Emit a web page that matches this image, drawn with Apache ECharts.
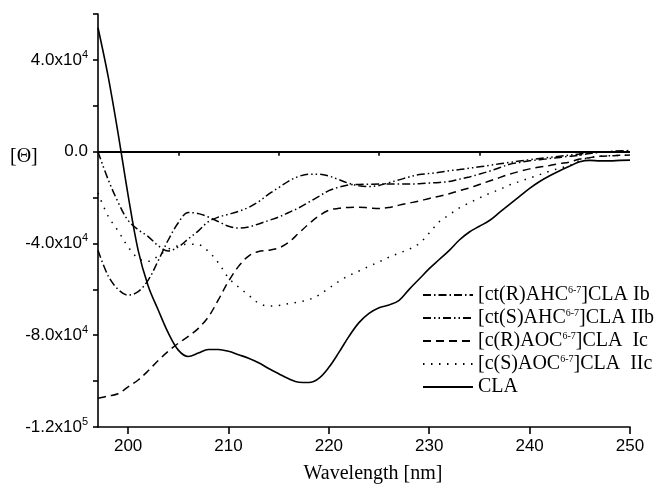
<!DOCTYPE html>
<html>
<head>
<meta charset="utf-8">
<script src="https://cdn.jsdelivr.net/npm/echarts@6/dist/echarts.min.js"></script>
<style>html,body{margin:0;padding:0;background:#fff}#c{width:658px;height:489px}</style>
</head>
<body>
<div id="c"></div>
<script>
// Wavelength grid [nm]
const wavelengths = [197,198,199,200,201,202,203,204,205,206,207,208,209,210,211,212,213,214,215,216,217,218,219,220,221,222,223,224,225,226,227,228,229,230,231,232,233,234,235,236,237,238,239,240,241,242,243,244,245,246,247,248,249,250];

// [ct(R)AHC6-7]CLA Ib  (dash-dot)
const ctR_Ib = [-43000,-54000,-60000,-62500,-61000,-56000,-47500,-38500,-31000,-26500,-27000,-28500,-30500,-32500,-33300,-32800,-31500,-30000,-28500,-26500,-24500,-22000,-19500,-17000,-15500,-14500,-14300,-14200,-14100,-14100,-14100,-14100,-14000,-13700,-13400,-13000,-12000,-11000,-9800,-8500,-7000,-5500,-4700,-4000,-3500,-3000,-2500,-2000,-1500,-800,-300,0,300,500];

// [ct(S)AHC6-7]CLA IIb (dash-dot-dot)
const ctS_IIb = [0,-12000,-22000,-30000,-34000,-37000,-41000,-43300,-41500,-38000,-34500,-30500,-28500,-27300,-26000,-24300,-21800,-18500,-15700,-12800,-10800,-9800,-9800,-10600,-12200,-13800,-14900,-15200,-14700,-13500,-12300,-11000,-10000,-9500,-9000,-8300,-7800,-7200,-6600,-6000,-5300,-4700,-4100,-3500,-3000,-2500,-2000,-1500,-1000,-500,-200,0,200,200];

// [c(R)AOC6-7]CLA Ic (dashed)
const cR_Ic = [-107500,-106500,-105500,-102500,-99500,-95500,-91000,-87000,-83500,-80500,-77000,-72000,-64500,-56500,-50000,-45500,-43500,-43000,-42000,-39500,-35500,-31500,-28000,-25500,-24700,-24300,-24200,-24500,-24800,-24300,-23300,-22400,-21500,-20400,-19400,-18300,-17000,-15800,-14300,-12800,-11300,-9800,-8600,-7500,-6700,-6000,-5200,-4500,-3200,-2600,-2000,-1800,-1600,-1500];

// [c(S)AOC6-7]CLA IIc (dotted)
const cS_IIc = [-18000,-28000,-34500,-41500,-46500,-47800,-45500,-42500,-41000,-40300,-40500,-43500,-48500,-55000,-59000,-62500,-66000,-67300,-67000,-66200,-65500,-64500,-62500,-59500,-56500,-54000,-52000,-50000,-48000,-46000,-44200,-42500,-40000,-35500,-30500,-27500,-24500,-22300,-20200,-18200,-16500,-14500,-13000,-11500,-10000,-8500,-7200,-6000,-3800,-2500,-2000,-1800,-1600,-1500];

// CLA (solid)
const cla = [54000,33000,8000,-19000,-43000,-58500,-69000,-79000,-86500,-89300,-87800,-86200,-86200,-87000,-88500,-90000,-92000,-94500,-96800,-99000,-100500,-100600,-98800,-94000,-87500,-80500,-74500,-70500,-68000,-66800,-64800,-60000,-55500,-51000,-47000,-43000,-38500,-35000,-32500,-30000,-26500,-23000,-19500,-16000,-13000,-10500,-8300,-6300,-4400,-3800,-4000,-4000,-3800,-3700];

const seriesNames = ['ctR','ctS','cR','cS','CLA'];
const legendLabels = {
  ctR: '[ct(R)AHC{s|6-7}]CLA Ib',
  ctS: '[ct(S)AHC{s|6-7}]CLA IIb',
  cR: '[c(R)AOC{s|6-7}]CLA  Ic',
  cS: '[c(S)AOC{s|6-7}]CLA  IIc',
  CLA: 'CLA'
};
const xMajorTicks = [200,210,220,230,240,250];
const xMinorTicks = [205,215,225,235,245];
const yLabelValues = [-120000,-80000,-40000,0,40000];
const yTickValues = [-120000,-100000,-80000,-60000,-40000,-20000,0,20000,40000,60000];

const pair = arr => wavelengths.map((w,i)=>[w,arr[i]]);
const dashes = {
  ctR: [8,3,1.5,3],
  ctS: [8,3,1.5,3,1.5,3],
  cR: [8,5],
  cS: [1.5,6.5],
  CLA: 'solid'
};
const values = {ctR: ctR_Ib, ctS: ctS_IIb, cR: cR_Ic, cS: cS_IIc, CLA: cla};

function yFmt(v){
  if (v === 0) return '0.0';
  const a = Math.abs(v);
  const e = Math.floor(Math.log10(a) + 1e-9);
  const m = (a/Math.pow(10,e)).toFixed(1);
  return (v<0?'-':'') + m + 'x10{s|' + e + '}';
}

const chart = echarts.init(document.getElementById('c'), null, {renderer:'canvas'});
const axisCommon = {
  axisLine:{show:true, onZero:false, lineStyle:{color:'#000', width:1.6}},
  splitLine:{show:false}
};
chart.setOption({
  animation:false,
  backgroundColor:'#fff',
  grid:{left:98, right:28, top:14, bottom:59},
  legend:{
    orient:'vertical', left:422, top:285, padding:0,
    itemWidth:50, itemHeight:14, itemGap:3,
    data: seriesNames,
    formatter: n => legendLabels[n],
    itemStyle:{opacity:0},
    textStyle:{fontFamily:'Liberation Serif', fontSize:20, color:'#000', lineHeight:20,
      rich:{s:{fontFamily:'Liberation Serif', fontSize:10, padding:[0,0,10,0]}}}
  },
  xAxis:[{
    type:'value', min:197, max:250,
    ...axisCommon,
    name:'Wavelength [nm]', nameLocation:'middle', nameGap:37,
    nameTextStyle:{fontFamily:'Liberation Serif', fontSize:20, color:'#000', padding:[0,0,0,18]},
    axisTick:{show:true, inside:false, length:7, customValues:xMajorTicks, lineStyle:{color:'#000', width:1.6}},
    axisLabel:{customValues:xMajorTicks, margin:11, fontFamily:'Liberation Sans', fontSize:17, color:'#000'}
  },{
    type:'value', min:197, max:250, position:'bottom',
    axisLine:{show:false}, splitLine:{show:false},
    axisTick:{show:true, inside:false, length:4, customValues:xMinorTicks, lineStyle:{color:'#000', width:1.6}},
    axisLabel:{show:false}
  }],
  yAxis:{
    type:'value', min:-120000, max:60000,
    ...axisCommon,
    axisTick:{show:true, inside:false, length:5, customValues:yTickValues, lineStyle:{color:'#000', width:1.6}},
    axisLabel:{customValues:yLabelValues, margin:10, formatter:yFmt, fontFamily:'Liberation Sans', fontSize:17, color:'#000',
      rich:{s:{fontFamily:'Liberation Sans', fontSize:11, padding:[0,0,10,0]}}}
  },
  graphic:[{
    type:'text', left:10, top:147,
    style:{text:'[Θ]', fontFamily:'Liberation Serif', fontSize:20, fill:'#000'}
  }],
  series: seriesNames.map(n => ({
    name:n, type:'line', xAxisIndex:0, data: pair(values[n]),
    smooth:0.35, symbol:'none', showSymbol:false,
    lineStyle:{color:'#000', width:n==='CLA'?1.6:1.5, type:dashes[n]},
    itemStyle:{color:'#000'},
    markLine: n==='CLA' ? {silent:true, symbol:'none', label:{show:false},
      lineStyle:{color:'#000', width:2, type:'solid'}, data:[{yAxis:0}]} : undefined
  }))
});
</script>
</body>
</html>
